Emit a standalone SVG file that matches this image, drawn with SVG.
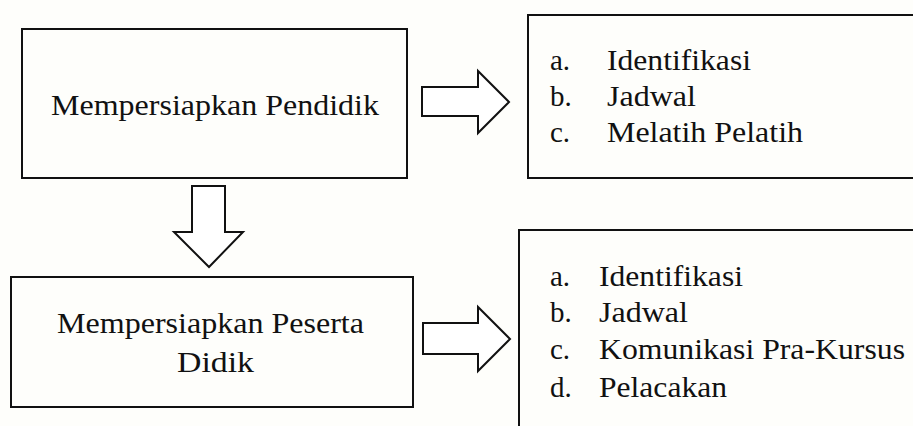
<svg xmlns="http://www.w3.org/2000/svg" width="913" height="426" viewBox="0 0 913 426">
<style>
.box{fill:none;stroke:#111;stroke-width:2}
.arr{fill:#fff;stroke:#111;stroke-width:2;stroke-linejoin:miter}
</style>
<rect x="0" y="0" width="913" height="426" fill="#fefefb"/>
<g id="node-pendidik">
<rect class="box" x="22" y="29" width="385" height="149"/>
<text font-family="Liberation Serif" font-size="29" fill="#111" x="51" y="115" textLength="328" lengthAdjust="spacingAndGlyphs">Mempersiapkan Pendidik</text>
</g>
<g id="node-list1">
<rect class="box" x="528" y="15" width="400" height="163"/>
<text font-family="Liberation Serif" font-size="29" fill="#111" x="550" y="70">a.</text>
<text font-family="Liberation Serif" font-size="29" fill="#111" x="607" y="70" textLength="144" lengthAdjust="spacingAndGlyphs">Identifikasi</text>
<text font-family="Liberation Serif" font-size="29" fill="#111" x="550" y="106">b.</text>
<text font-family="Liberation Serif" font-size="29" fill="#111" x="607" y="106" textLength="89" lengthAdjust="spacingAndGlyphs">Jadwal</text>
<text font-family="Liberation Serif" font-size="29" fill="#111" x="550" y="142">c.</text>
<text font-family="Liberation Serif" font-size="29" fill="#111" x="607" y="142" textLength="196" lengthAdjust="spacingAndGlyphs">Melatih Pelatih</text>
</g>
<g id="node-peserta">
<rect class="box" x="11" y="277" width="402" height="130"/>
<text font-family="Liberation Serif" font-size="29" fill="#111" x="57" y="333" textLength="307" lengthAdjust="spacingAndGlyphs">Mempersiapkan Peserta</text>
<text font-family="Liberation Serif" font-size="29" fill="#111" x="177" y="372" textLength="77" lengthAdjust="spacingAndGlyphs">Didik</text>
</g>
<g id="node-list2">
<rect class="box" x="519" y="230" width="410" height="220"/>
<text font-family="Liberation Serif" font-size="29" fill="#111" x="550" y="286">a.</text>
<text font-family="Liberation Serif" font-size="29" fill="#111" x="599" y="286" textLength="144" lengthAdjust="spacingAndGlyphs">Identifikasi</text>
<text font-family="Liberation Serif" font-size="29" fill="#111" x="550" y="322">b.</text>
<text font-family="Liberation Serif" font-size="29" fill="#111" x="599" y="322" textLength="89" lengthAdjust="spacingAndGlyphs">Jadwal</text>
<text font-family="Liberation Serif" font-size="29" fill="#111" x="550" y="359">c.</text>
<text font-family="Liberation Serif" font-size="29" fill="#111" x="599" y="359" textLength="306" lengthAdjust="spacingAndGlyphs">Komunikasi Pra-Kursus</text>
<text font-family="Liberation Serif" font-size="29" fill="#111" x="550" y="397">d.</text>
<text font-family="Liberation Serif" font-size="29" fill="#111" x="599" y="397" textLength="128" lengthAdjust="spacingAndGlyphs">Pelacakan</text>
</g>
<g id="connectors">
<path class="arr" d="M422,87 H478 V71 L509,102 L478,133 V116 H422 Z"/>
<path class="arr" d="M192,186 H225 V232 H243 L209,267 L174,232 H192 Z"/>
<path class="arr" d="M423,323 H478 V307 L510,339 L478,371 V354 H423 Z"/>
</g>
</svg>
